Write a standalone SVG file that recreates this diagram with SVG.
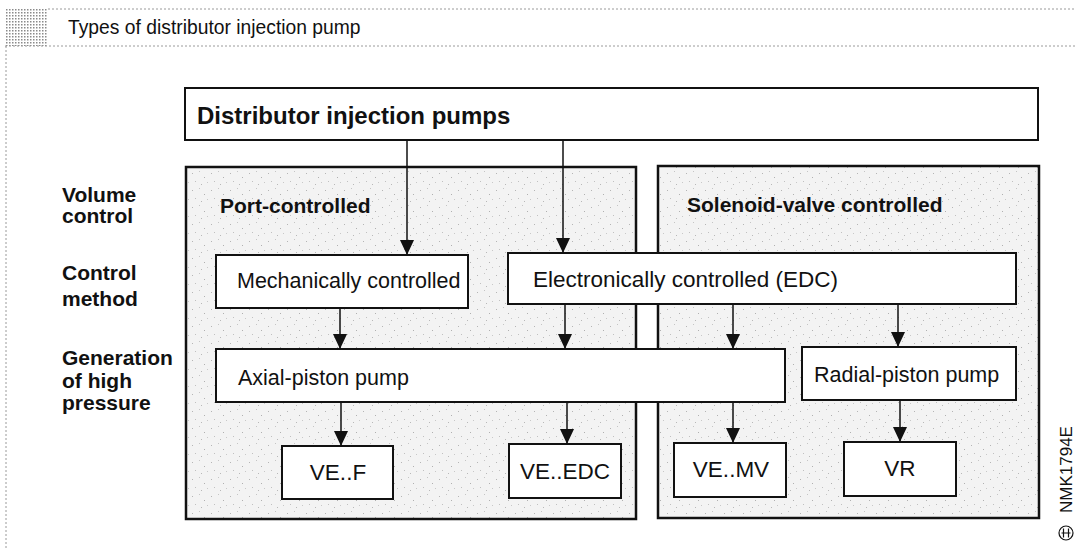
<svg xmlns="http://www.w3.org/2000/svg" width="1075" height="549" viewBox="0 0 1075 549">
  <defs>
    <style>
      .t { font-family: "Liberation Sans", Arial, Helvetica, sans-serif; fill: #111; }
      .title { font-size: 19.3px; }
      .side { font-size: 21px; font-weight: bold; }
      .head { font-size: 21px; font-weight: bold; }
      .main { font-size: 24px; font-weight: bold; }
      .lbl { font-size: 21.5px; }
      .lbl2 { font-size: 22.5px; }
      .box { fill: #ffffff; stroke: #111; stroke-width: 2; }
      .panel { fill: url(#stip); stroke: #111; stroke-width: 2.5; }
      .conn { stroke: #111; stroke-width: 1.5; fill: none; marker-end: url(#arr); }
      .frame { stroke: #9a9a9a; stroke-width: 1; stroke-dasharray: 2 2; fill: none; }
      .code { font-size: 17px; }
    </style>
    <marker id="arr" markerUnits="userSpaceOnUse" markerWidth="15" markerHeight="14" refX="15" refY="7" orient="auto" viewBox="0 0 15 14">
      <path d="M0,0 L15,7 L0,14 Z" fill="#111"/>
    </marker>
    <pattern id="stip" width="19" height="17" patternUnits="userSpaceOnUse">
      <rect width="19" height="17" fill="#f3f3f3"/>
      <rect x="2" y="3" width="1" height="1" fill="#b5b5b5"/>
      <rect x="9" y="1" width="1" height="1" fill="#c5c5c5"/>
      <rect x="14" y="7" width="1" height="1" fill="#b0b0b0"/>
      <rect x="5" y="11" width="1" height="1" fill="#c0c0c0"/>
      <rect x="11" y="14" width="1" height="1" fill="#b8b8b8"/>
      <rect x="17" y="12" width="1" height="1" fill="#c8c8c8"/>
    </pattern>
    <pattern id="half" width="3" height="3" patternUnits="userSpaceOnUse">
      <rect width="3" height="3" fill="#ffffff"/>
      <rect width="1.5" height="1.5" fill="#8a8a8a"/>
    </pattern>
  </defs>

  <rect width="1075" height="549" fill="#ffffff"/>

  <g id="frame">
    <rect x="5" y="9" width="43" height="37" fill="url(#half)"/>
    <line class="frame" x1="48" y1="9" x2="1075" y2="9"/>
    <line class="frame" x1="5" y1="46" x2="1075" y2="46"/>
    <line class="frame" x1="6" y1="46" x2="6" y2="549"/>
    <text class="t title" x="68" y="34">Types of distributor injection pump</text>
  </g>

  <g id="side-labels">
    <text class="t side" x="62" y="202">Volume</text>
    <text class="t side" x="62" y="223">control</text>
    <text class="t side" x="62" y="280">Control</text>
    <text class="t side" x="62" y="306">method</text>
    <text class="t side" x="62" y="365">Generation</text>
    <text class="t side" x="62" y="388">of high</text>
    <text class="t side" x="62" y="410">pressure</text>
  </g>

  <g id="panel-port">
    <rect class="panel" x="186" y="167" width="450" height="352"/>
    <text class="t head" x="220" y="213">Port-controlled</text>
  </g>
  <g id="panel-solenoid">
    <rect class="panel" x="658" y="166" width="381" height="352"/>
    <text class="t head" x="687" y="212">Solenoid-valve controlled</text>
  </g>

  <g id="connectors">
    <line class="conn" x1="407" y1="140" x2="407" y2="255"/>
    <line class="conn" x1="563" y1="140" x2="563" y2="253"/>
    <line class="conn" x1="340" y1="308" x2="340" y2="349"/>
    <line class="conn" x1="565" y1="304" x2="565" y2="349"/>
    <line class="conn" x1="733" y1="304" x2="733" y2="349"/>
    <line class="conn" x1="898" y1="304" x2="898" y2="347"/>
    <line class="conn" x1="341" y1="402" x2="341" y2="446"/>
    <line class="conn" x1="567" y1="402" x2="567" y2="444"/>
    <line class="conn" x1="733" y1="402" x2="733" y2="443"/>
    <line class="conn" x1="900" y1="400" x2="900" y2="442"/>
  </g>

  <g id="node-distributor">
    <rect class="box" x="185" y="88" width="853" height="52"/>
    <text class="t main" x="197" y="124">Distributor injection pumps</text>
  </g>
  <g id="node-mechanical">
    <rect class="box" x="216" y="255" width="252" height="53"/>
    <text class="t lbl" x="237" y="288">Mechanically controlled</text>
  </g>
  <g id="node-electronic">
    <rect class="box" x="508" y="253" width="508" height="51"/>
    <text class="t lbl2" x="533" y="287">Electronically controlled (EDC)</text>
  </g>
  <g id="node-axial">
    <rect class="box" x="216" y="349" width="569" height="53"/>
    <text class="t lbl" x="238" y="385">Axial-piston pump</text>
  </g>
  <g id="node-radial">
    <rect class="box" x="802" y="347" width="214" height="53"/>
    <text class="t lbl" x="814" y="382">Radial-piston pump</text>
  </g>
  <g id="node-vef">
    <rect class="box" x="282" y="446" width="111" height="53"/>
    <text class="t lbl2" x="338" y="480" text-anchor="middle">VE..F</text>
  </g>
  <g id="node-veedc">
    <rect class="box" x="509" y="444" width="112" height="54"/>
    <text class="t lbl2" x="565" y="479" text-anchor="middle">VE..EDC</text>
  </g>
  <g id="node-vemv">
    <rect class="box" x="674" y="443" width="112" height="54"/>
    <text class="t lbl2" x="731" y="477" text-anchor="middle">VE..MV</text>
  </g>
  <g id="node-vr">
    <rect class="box" x="844" y="442" width="112" height="54"/>
    <text class="t lbl2" x="900" y="476" text-anchor="middle">VR</text>
  </g>

  <g id="figure-code">
    <text class="t code" transform="translate(1072 513) rotate(-90)" x="0" y="0">NMK1794E</text>
    <circle cx="1066" cy="533" r="7" fill="none" stroke="#111" stroke-width="1.2"/>
    <path d="M1061.5,533 H1070.5 M1063.5,528.5 V537.5 M1068.5,528.5 V537.5" stroke="#111" stroke-width="1.2" fill="none"/>
  </g>
</svg>
